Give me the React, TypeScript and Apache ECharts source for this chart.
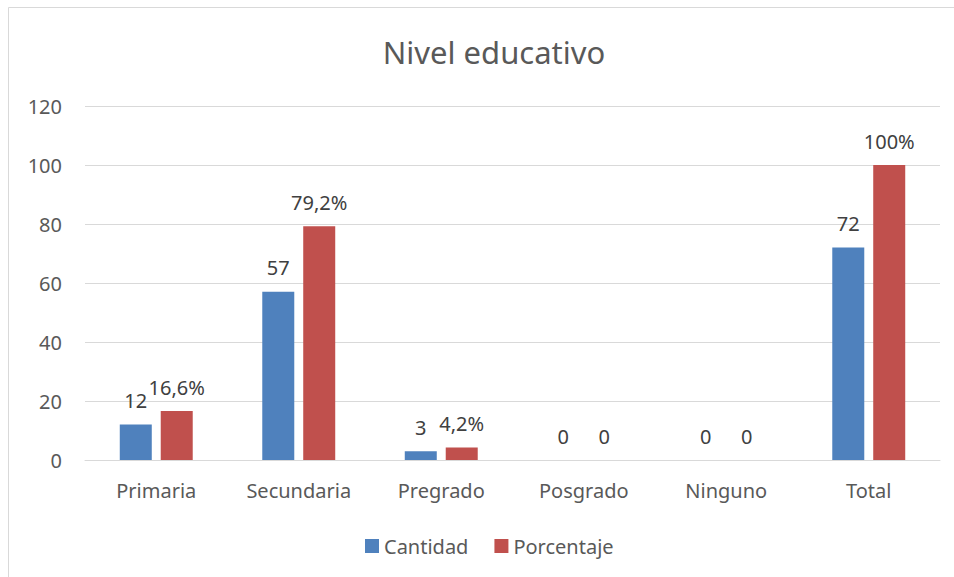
import React, { useEffect, useRef } from "react";
import * as echarts from "echarts";

const categories = ["Primaria", "Secundaria", "Pregrado", "Posgrado", "Ninguno", "Total"];
const cantidad = [12, 57, 3, 0, 0, 72];
const porcentaje = [16.6, 79.2, 4.2, 0, 0, 100];
const porcentajeLabels = ["16,6%", "79,2%", "4,2%", "0", "0", "100%"];
const seriesNames = ["Cantidad", "Porcentaje"];
const titleText = "Nivel educativo";

const FONT = "'Noto Sans', 'Open Sans', sans-serif";

export default function App() {
  const ref = useRef<HTMLDivElement>(null);
  useEffect(() => {
    if (!ref.current) return;
    const chart = echarts.init(ref.current, null, { renderer: "svg" });
    chart.setOption({
      animation: false,
      backgroundColor: "#ffffff",
      textStyle: { fontFamily: FONT },
      title: {
        text: titleText,
        left: 489,
        textAlign: "center",
        top: 31,
        textStyle: { fontSize: 31, fontWeight: "normal", color: "#595959", fontFamily: FONT },
      },
      graphic: [
        {
          type: "rect",
          shape: { x: 8.5, y: 7.5, width: 980, height: 600 },
          style: { fill: "none", stroke: "#d9d9d9", lineWidth: 1 },
          silent: true,
          z: -10,
        },
      ],
      legend: {
        data: seriesNames,
        left: 360,
        top: 531,
        itemWidth: 14,
        itemHeight: 14,
        itemGap: 26,
        icon: "rect",
        textStyle: { fontSize: 20, color: "#595959", fontFamily: FONT },
      },
      grid: { left: 85, right: 14, top: 106, bottom: 117 },
      xAxis: {
        type: "category",
        data: categories,
        axisLine: { show: true, lineStyle: { color: "#d9d9d9", width: 1 } },
        axisTick: { show: false },
        axisLabel: { fontSize: 20, color: "#595959", margin: 20, fontFamily: FONT },
      },
      yAxis: {
        type: "value",
        min: 0,
        max: 120,
        interval: 20,
        axisLine: { show: false },
        axisTick: { show: false },
        splitLine: { lineStyle: { color: "#d9d9d9", width: 1 } },
        axisLabel: { fontSize: 20, color: "#595959", margin: 23, fontFamily: FONT },
      },
      series: [
        {
          name: seriesNames[0],
          type: "bar",
          data: cantidad,
          barWidth: 32,
          barGap: "28%",
          itemStyle: { color: "#4F81BD" },
          label: {
            show: true,
            position: "top",
            distance: 14,
            fontSize: 20,
            color: "#404040",
            fontFamily: FONT,
          },
        },
        {
          name: seriesNames[1],
          type: "bar",
          data: porcentaje,
          barWidth: 32,
          itemStyle: { color: "#C0504D" },
          label: {
            show: true,
            position: "top",
            distance: 14,
            fontSize: 20,
            color: "#404040",
            fontFamily: FONT,
            formatter: (p: any) => porcentajeLabels[p.dataIndex],
          },
        },
      ],
    });
    return () => chart.dispose();
  }, []);
  return (
    <div
      ref={ref}
      style={{ position: "fixed", left: 0, top: 0, width: 954, height: 577, background: "#fff" }}
    />
  );
}
